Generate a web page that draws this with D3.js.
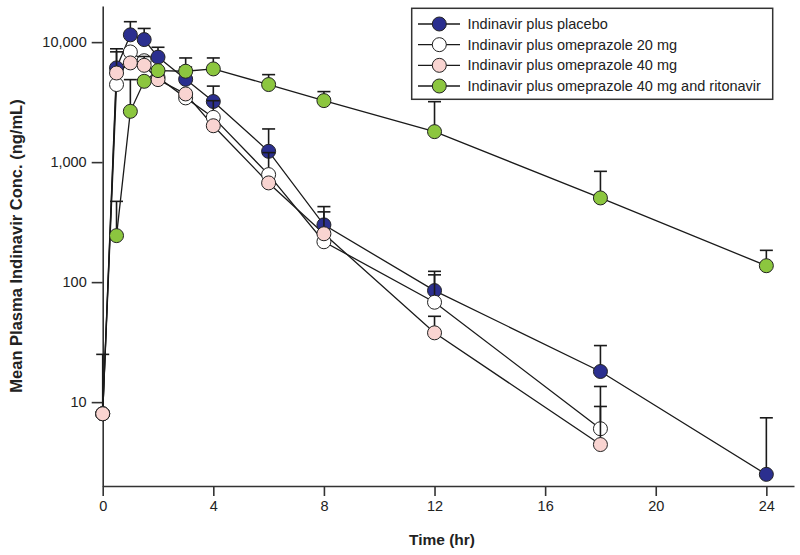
<!DOCTYPE html>
<html><head><meta charset="utf-8">
<script src="https://cdn.jsdelivr.net/npm/d3@7"></script>
<style>
body{margin:0;background:#fff;}
svg text{font-family:"Liberation Sans",Arial,Helvetica,sans-serif;fill:#222;}
</style></head>
<body><svg id="c" width="800" height="555"></svg>
<script>
const times = [0, 0.5, 1, 1.5, 2, 3, 4, 6, 8, 12, 18, 24];
const seriesNames = ["Indinavir plus placebo","Indinavir plus omeprazole 20 mg","Indinavir plus omeprazole 40 mg","Indinavir plus omeprazole 40 mg and ritonavir"];
const placebo      = [8, 6100, 11500, 10500, 7500, 4900, 3200, 1230, 300, 85, 18, 2.5];
const placeboUpper = [null, 8800, 14800, 13000, 9060, 6200, 4300, 1890, 426, 123, 29.6, 7.4];
const ome20        = [8, 4430, 8280, 7000, 5100, 3430, 2360, 787, 217, 68, 6, null];
const ome20Upper   = [null, null, null, null, null, null, 3250, 1200, 385, 115, 13.5, null];
const ome40        = [8, 5530, 6710, 6410, 4870, 3700, 2010, 671, 253, 37.8, 4.43, null];
const ome40Upper   = [25, 8300, null, 7590, null, null, null, null, null, 51.9, 9.2, null];
const ritonavir      = [null, 244, 2650, 4715, 5790, 5720, 5980, 4430, 3255, 1795, 503, 137];
const ritonavirUpper = [null, 471, 4870, null, null, 7380, 7380, 5360, 3870, 3190, 838, 184];
const xTicks = [0, 4, 8, 12, 16, 20, 24];
const yTicks = [10, 100, 1000, 10000];
const yTickLabels = ["10", "100", "1,000", "10,000"];
const colors = ["#2b2f8f", "#ffffff", "#f9d4d1", "#8cc63f"];

const svg = d3.select("#c");
const x = d3.scaleLinear().domain([0, 25]).range([102.7, 794]);
const y = d3.scaleLog().domain([2, 20000]).range([486, 6]);

// axes
const yAxis = svg.append("g").attr("transform","translate(102.7,0)")
  .call(d3.axisLeft(y).tickValues(yTicks).tickFormat((d,i)=>yTickLabels[i]).tickSize(11).tickSizeOuter(0).tickPadding(5));
const xAxis = svg.append("g").attr("transform","translate(0,486)")
  .call(d3.axisBottom(x).tickValues(xTicks).tickSize(10).tickSizeOuter(0).tickPadding(5));
[yAxis, xAxis].forEach(a=>{
  a.select(".domain").attr("stroke","#333").attr("stroke-width",1.6);
  a.selectAll(".tick line").attr("stroke","#333").attr("stroke-width",1.6);
  a.selectAll(".tick text").style("font-size","14.5px").attr("fill","#222");
});

svg.append("text").attr("x", 442).attr("y", 545).attr("text-anchor","middle")
  .style("font-size","15.5px").style("font-weight","bold").text("Time (hr)");
svg.append("text").attr("transform","translate(22,246) rotate(-90)").attr("text-anchor","middle")
  .style("font-size","16.5px").style("font-weight","bold").text("Mean Plasma Indinavir Conc. (ng/mL)");

const data = [
  {vals: placebo, up: placeboUpper, color: colors[0]},
  {vals: ome20, up: ome20Upper, color: colors[1]},
  {vals: ome40, up: ome40Upper, color: colors[2]},
  {vals: ritonavir, up: ritonavirUpper, color: colors[3]}
];
const pts = s => times.map((t,i)=>({t, v:s.vals[i], u:s.up[i]})).filter(d=>d.v!=null);
const line = d3.line().x(d=>x(d.t)).y(d=>y(d.v));

data.forEach(s=>{
  svg.append("path").datum(pts(s)).attr("d", line).attr("fill","none").attr("stroke","#1a1a1a").attr("stroke-width",1.3);
});
data.forEach(s=>{
  const g = svg.append("g");
  const p = pts(s);
  const e = p.filter(d=>d.u!=null);
  g.selectAll("line.v").data(e).join("line").attr("x1",d=>x(d.t)).attr("x2",d=>x(d.t))
    .attr("y1",d=>y(d.v)).attr("y2",d=>y(d.u)).attr("stroke","#1a1a1a").attr("stroke-width",1.6);
  g.selectAll("line.c").data(e).join("line").attr("x1",d=>x(d.t)-6.5).attr("x2",d=>x(d.t)+6.5)
    .attr("y1",d=>y(d.u)).attr("y2",d=>y(d.u)).attr("stroke","#1a1a1a").attr("stroke-width",1.6);
  g.selectAll("circle").data(p).join("circle").attr("cx",d=>x(d.t)).attr("cy",d=>y(d.v)).attr("r",7)
    .attr("fill",s.color).attr("stroke","#222").attr("stroke-width",1);
});

// legend
const lg = svg.append("g");
lg.append("rect").attr("x",411.7).attr("y",8.3).attr("width",361).attr("height",91)
  .attr("fill","#fff").attr("stroke","#333").attr("stroke-width",1.5);
const rowY = d3.scalePoint().domain(d3.range(4)).range([24, 86]);
seriesNames.forEach((n,i)=>{
  const yy = rowY(i);
  lg.append("line").attr("x1",418).attr("x2",460).attr("y1",yy).attr("y2",yy).attr("stroke","#1a1a1a").attr("stroke-width",1.3);
  lg.append("circle").attr("cx",439.3).attr("cy",yy).attr("r",7).attr("fill",colors[i]).attr("stroke","#222");
  lg.append("text").attr("x",467.5).attr("y",yy).attr("dy","0.35em").style("font-size","14.5px").text(n);
});
</script></body></html>
